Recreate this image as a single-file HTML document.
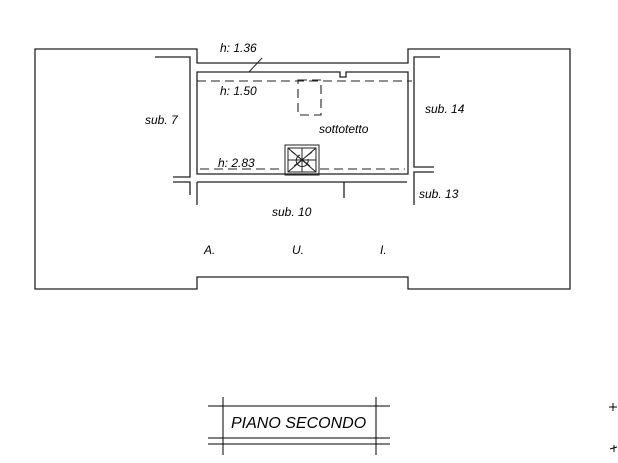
<!DOCTYPE html>
<html><head><meta charset="utf-8"><style>
html,body{margin:0;padding:0;background:#fff;width:618px;height:463px;overflow:hidden}
text{font-family:"Liberation Sans",sans-serif;font-style:italic;fill:#000}
</style></head><body>
<svg width="618" height="463" viewBox="0 0 618 463" xmlns="http://www.w3.org/2000/svg">
<g fill="none" stroke="#222" stroke-width="1.3">
<path d="M35 49 H197 V63 H408 V49 H570 V289 H408 V277 H197 V289 H35 Z"/>
<path d="M155 57 H190 V177 H173"/>
<path d="M173 182 H190 V195"/>
<path d="M197 72 H340 V77 H346 V72 H408 V174 H197 Z"/>
<path d="M197 182 H407"/>
<path d="M197 182 V205"/>
<path d="M344 182 V198"/>
<path d="M440 57 H414 V167 H434"/>
<path d="M434 172 H414 V205"/>
<path d="M262 58 L249 72" stroke-width="1"/>
</g>
<g fill="none" stroke="#222" stroke-width="1.1" stroke-dasharray="9,5">
<path d="M197 81 H412"/>
<path d="M298 80 H321 V115 H298 Z"/>
<path d="M200 169 H283"/>
<path d="M320 169 H405"/>
</g>
<g fill="none" stroke="#222" stroke-width="1">
<rect x="285" y="145" width="34" height="30"/>
<rect x="288" y="148" width="28" height="24"/>
<path d="M288 148 L316 172 M316 148 L288 172 M302 148 V172 M288 160 H316 M291 151 L310 166 M300 155 a6 6 0 1 0 8 4 M294 166 L312 152"/>
</g>
<text x="220" y="52" font-size="12">h: 1.36</text>
<text x="220" y="95" font-size="12">h: 1.50</text>
<text x="319" y="133" font-size="12">sottotetto</text>
<text x="218" y="167" font-size="12">h: 2.83</text>
<text x="145" y="124" font-size="12">sub. 7</text>
<text x="425" y="113" font-size="12">sub. 14</text>
<text x="419" y="198" font-size="12">sub. 13</text>
<text x="272" y="216" font-size="12">sub. 10</text>
<text x="204" y="254" font-size="12">A.</text>
<text x="292" y="254" font-size="12">U.</text>
<text x="380" y="254" font-size="12">I.</text>
<g stroke="#000" stroke-width="1">
<path d="M208 406 H390 M208 438 H390 M208 444 H390 M223 397 V455 M376 397 V455"/>
<path d="M609 407 H617 M613 403 V411"/>
<path d="M610 449 L617 447 M614 445 V452"/>
</g>
<text x="231" y="428" font-size="16">PIANO SECONDO</text>
</svg>
</body></html>
